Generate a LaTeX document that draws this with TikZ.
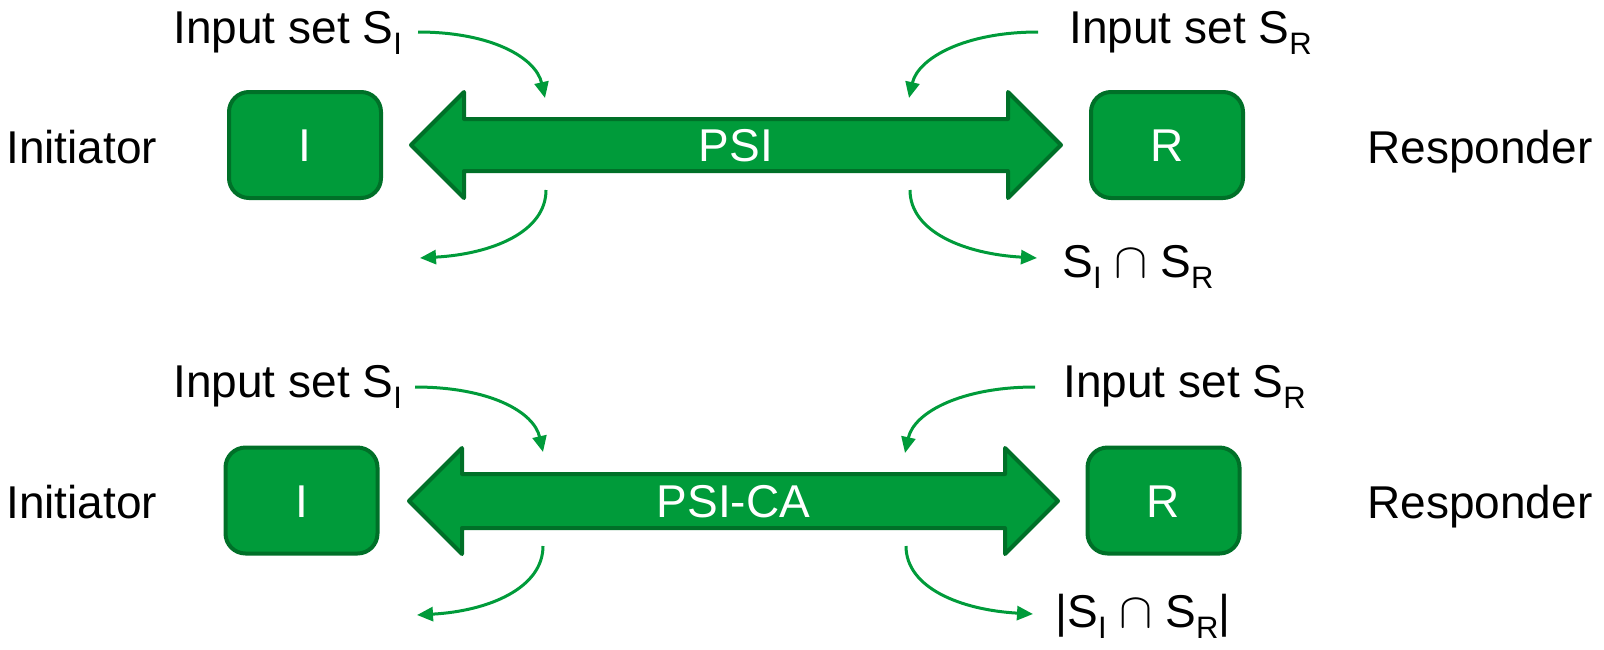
\documentclass[tikz,border=0pt]{standalone}
\usepackage{fontspec}
\setmainfont{Liberation Sans}
\usetikzlibrary{arrows.meta}
\definecolor{pgreen}{RGB}{0,155,58}
\definecolor{pdark}{RGB}{0,112,40}
\newcommand{\sbs}[1]{\raisebox{-5.75pt}{\fontsize{15.5}{18}\selectfont #1}}
\newcommand{\isect}{$\cap$}
\begin{document}
\begin{tikzpicture}[x=0.5pt,y=-0.5pt,
  lbl/.style={inner sep=0,anchor=base west,font=\fontsize{23}{27}\selectfont},
  wlbl/.style={inner sep=0,text=white,text height=16.5pt,text depth=0pt,font=\fontsize{23}{27}\selectfont},
  party/.style={wlbl,draw=pdark,fill=pgreen,line width=2pt,rounded corners=10pt,minimum width=76pt,minimum height=53pt},
  bigarrow/.style={draw=pdark,fill=pgreen,line width=2pt,line join=round},
  flow/.style={draw=pgreen,line width=1.5pt,-{Triangle[length=8pt,width=7pt]}}]
\useasboundingbox (0,0) rectangle (1604,649);

% ---------- top: PSI ----------
\node[party] (I1) at (305,145) {I};
\node[party] (R1) at (1167,145) {R};
\draw[bigarrow] (411,145) -- (464,92) -- (464,119) -- (1008,119) -- (1008,92) -- (1061,145)
  -- (1008,198) -- (1008,171) -- (464,171) -- (464,198) -- cycle;
\node[wlbl] (psi1) at (736,145) {PSI};

\node[lbl] (inI1) at (173,43) {Input set S\sbs{I}};
\node[lbl] (inR1) at (1069,43) {Input set S\sbs{R}};
\node[lbl] (ini1) at (6,163) {Initiator};
\node[lbl] (res1) at (1367,163) {Responder};
\node[lbl] (out1) at (1062,277) {S\sbs{I} \isect{} S\sbs{R}};

\coordinate (a1s) at (418,32);  \coordinate (a1e) at (545,98);
\coordinate (b1s) at (1038,32); \coordinate (b1e) at (909,98);
\coordinate (c1s) at (546,190); \coordinate (c1e) at (420,258);
\coordinate (d1s) at (910,190); \coordinate (d1e) at (1037,258);
\draw[flow] (a1s) .. controls (492,32) and (536,58) .. (a1e);
\draw[flow] (b1s) .. controls (965,32) and (918,58) .. (b1e);
\draw[flow] (c1s) .. controls (546,232) and (492,254) .. (c1e);
\draw[flow] (d1s) .. controls (910,232) and (965,254) .. (d1e);

% ---------- bottom: PSI-CA ----------
\node[party] (I2) at (301.5,500.5) {I};
\node[party] (R2) at (1163.5,500.5) {R};
\draw[bigarrow] (409,501) -- (462,448) -- (462,474) -- (1005,474) -- (1005,448) -- (1058,501)
  -- (1005,554) -- (1005,528) -- (462,528) -- (462,554) -- cycle;
\node[wlbl] (psi2) at (733.5,501) {PSI-CA};

\node[lbl] (inI2) at (173,397) {Input set S\sbs{I}};
\node[lbl] (inR2) at (1063,397) {Input set S\sbs{R}};
\node[lbl] (ini2) at (6,518) {Initiator};
\node[lbl] (res2) at (1367,518) {Responder};
\node[lbl] (out2) at (1055,627) {|S\sbs{I} \isect{} S\sbs{R}|};

\coordinate (a2s) at (415,387);  \coordinate (a2e) at (543,452);
\coordinate (b2s) at (1035,387); \coordinate (b2e) at (905,453);
\coordinate (c2s) at (543,546);  \coordinate (c2e) at (417,615);
\coordinate (d2s) at (906,546);  \coordinate (d2e) at (1033,614);
\draw[flow] (a2s) .. controls (490,387) and (534,412) .. (a2e);
\draw[flow] (b2s) .. controls (962,387) and (914,412) .. (b2e);
\draw[flow] (c2s) .. controls (543,588) and (489,611) .. (c2e);
\draw[flow] (d2s) .. controls (906,588) and (961,610) .. (d2e);
\end{tikzpicture}
\end{document}
